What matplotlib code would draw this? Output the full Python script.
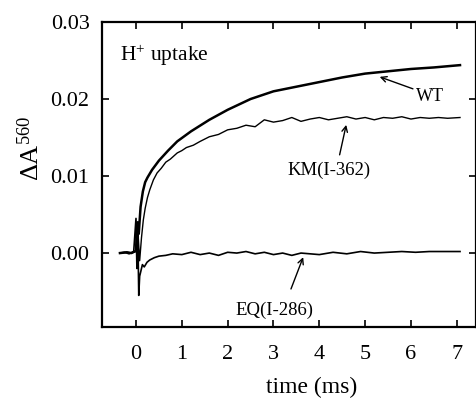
import matplotlib
matplotlib.use("Agg")
import matplotlib.pyplot as plt

plt.rcParams['font.family'] = ['Liberation Serif', 'DejaVu Serif']
plt.rcParams['mathtext.fontset'] = 'custom'
plt.rcParams['mathtext.rm'] = 'Liberation Serif'
plt.rcParams['mathtext.it'] = 'Liberation Serif:italic'

# WT trace
wt_t = [-0.35, -0.2, -0.1, 0.0, 0.03, 0.06, 0.1, 0.15, 0.2, 0.25,
        0.35, 0.5, 0.7, 0.9, 1.2, 1.6, 2.0, 2.5, 3.0, 3.5, 4.0, 4.5,
        5.0, 5.5, 6.0, 6.5, 7.07]
wt_y = [0.0, 0.0001, 0.0, 0.0003, 0.004, 0.0025, 0.006, 0.008, 0.0092, 0.0098,
        0.0108, 0.0120, 0.0133, 0.0145, 0.0158, 0.0173, 0.0186, 0.0200, 0.0210,
        0.0216, 0.0222, 0.0228, 0.0233, 0.0236, 0.0239, 0.0241, 0.0244]

# KM(I-362) trace
km_t = [-0.35, -0.2, -0.1, 0.0, 0.04, 0.08, 0.12, 0.16, 0.2, 0.25,
        0.3, 0.38, 0.46, 0.55, 0.65, 0.75, 0.9, 1.0, 1.1, 1.25, 1.4, 1.6,
        1.8, 2.0, 2.2, 2.4, 2.6, 2.8, 3.0, 3.2, 3.4, 3.6, 3.8, 4.0,
        4.2, 4.4, 4.6, 4.8, 5.0, 5.2, 5.4, 5.6, 5.8, 6.0, 6.2, 6.4,
        6.6, 6.8, 7.07]
km_y = [0, 0.0001, 0, 0.0002, 0.003, -0.001, 0.002, 0.0043, 0.0058, 0.0072,
        0.0082, 0.0095, 0.0104, 0.0110, 0.0118, 0.0122, 0.0130, 0.0133, 0.0137,
        0.0140, 0.0145, 0.0151, 0.0154, 0.0160, 0.0162, 0.0166, 0.0164, 0.0173,
        0.0170, 0.0172, 0.0176, 0.0171, 0.0174, 0.0176, 0.0173, 0.0175, 0.0177,
        0.0174, 0.0176, 0.0173, 0.0176, 0.0175, 0.0177, 0.0174, 0.0176, 0.0175,
        0.0176, 0.0175, 0.0176]

# EQ(I-286) trace
eq_t = [-0.35, -0.25, -0.15, -0.05, 0.0, 0.02, 0.04, 0.06, 0.08, 0.1,
        0.14, 0.18, 0.24, 0.3, 0.4, 0.5, 0.65, 0.8, 1.0, 1.2, 1.4, 1.6,
        1.8, 2.0, 2.2, 2.4, 2.6, 2.8, 3.0, 3.2, 3.4, 3.6, 3.8, 4.0,
        4.3, 4.6, 4.9, 5.2, 5.5, 5.8, 6.1, 6.4, 6.7, 7.07]
eq_y = [0.0, 0.0001, -0.0001, 0.0002, 0.0045, -0.002, 0.003, -0.0055, -0.003, -0.0025,
        -0.0015, -0.0018, -0.0012, -0.0009, -0.0006, -0.0004, -0.0003, -0.0001,
        -0.0002, 0.0001, -0.0002, 0.0, -0.0003, 0.0001, 0.0, 0.0002, -0.0001,
        0.0001, -0.0002, 0.0, -0.0003, 0.0, -0.0001, -0.0002, 0.0001, -0.0001,
        0.0002, 0.0, 0.0001, 0.0002, 0.0001, 0.0002, 0.0002, 0.0002]

xticks = [0, 1, 2, 3, 4, 5, 6, 7]
yticks = [0.0, 0.01, 0.02, 0.03]
ytick_labels = ['0.00', '0.01', '0.02', '0.03']

fig = plt.figure(figsize=(4.77, 4.0), dpi=100)
ax = fig.add_axes([0.214, 0.1825, 0.784, 0.7625])

ax.plot(eq_t, eq_y, color='black', lw=1.2)
ax.plot(km_t, km_y, color='black', lw=1.0)
ax.plot(wt_t, wt_y, color='black', lw=1.8)

ax.set_xlim(-0.74, 7.42)
ax.set_ylim(-0.0096, 0.03)
ax.set_xticks(xticks)
ax.set_yticks(yticks)
ax.set_yticklabels(ytick_labels)
ax.tick_params(direction='in', length=5, width=1.2, top=True, right=True,
               labelsize=16)
ax.tick_params(axis='x', pad=13)
ax.tick_params(axis='y', pad=9)
for s in ax.spines.values():
    s.set_linewidth(1.6)

ax.set_xlabel('time (ms)', fontsize=17)
ax.xaxis.set_label_coords(0.56, -0.165)
ax.set_ylabel(r'$\Delta$A$^{560}$', fontsize=19)
ax.yaxis.set_label_coords(-0.155, 0.585)

ax.text(-0.35, 0.0257, r'H$^{+}$ uptake', fontsize=15.5, ha='left', va='center')

# labels with arrows
ax.text(6.42, 0.0203, 'WT', fontsize=13, ha='center', va='center')
ax.annotate('', xy=(5.26, 0.0230), xytext=(6.1, 0.0212),
            arrowprops=dict(arrowstyle='->', lw=1.0, color='black'))
ax.text(4.21, 0.0108, 'KM(I-362)', fontsize=13.5, ha='center', va='center')
ax.annotate('', xy=(4.6, 0.0170), xytext=(4.43, 0.0124),
            arrowprops=dict(arrowstyle='->', lw=1.0, color='black'))
ax.text(3.03, -0.0074, 'EQ(I-286)', fontsize=13.5, ha='center', va='center')
ax.annotate('', xy=(3.67, -0.0002), xytext=(3.36, -0.0050),
            arrowprops=dict(arrowstyle='->', lw=1.0, color='black'))

fig.savefig('out.png', dpi=100)
